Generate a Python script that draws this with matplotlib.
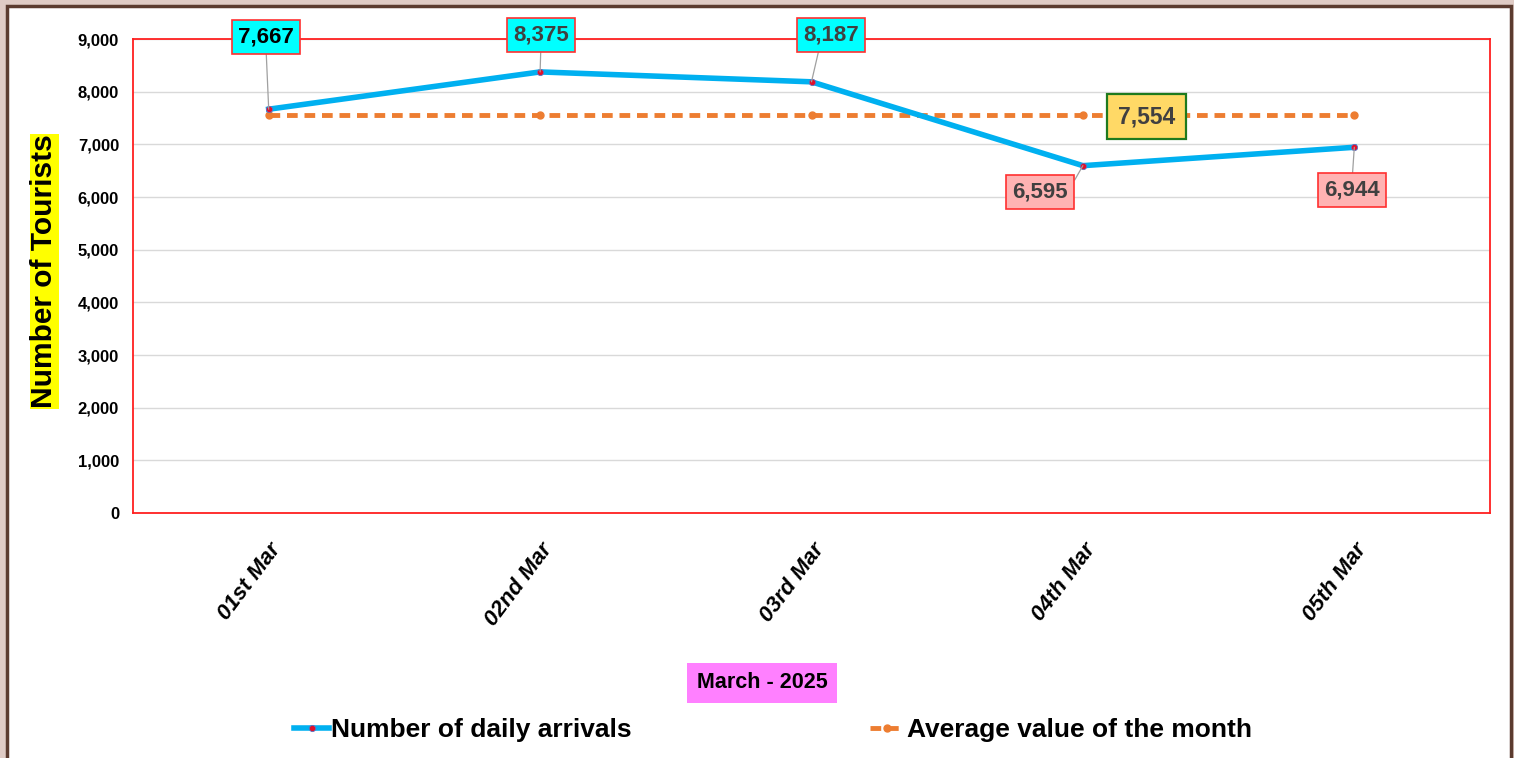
import matplotlib
matplotlib.use("Agg")
import matplotlib.pyplot as plt
from matplotlib.patches import Rectangle

days = ["01st Mar", "02nd Mar", "03rd Mar", "04th Mar", "05th Mar"]
arrivals = [7667, 8375, 8187, 6595, 6944]
month_avg = [7554, 7554, 7554, 7554, 7554]
y_ticks = [0, 1000, 2000, 3000, 4000, 5000, 6000, 7000, 8000, 9000]

FONT = ["Liberation Sans", "DejaVu Sans"]

W, H = 1514, 758
fig = plt.figure(figsize=(W / 100, H / 100), dpi=100)
fig.patch.set_facecolor("#dfcbc5")

# white card with brown frame
fig.patches.append(Rectangle((7 / W, -0.05), (1504 / W), 1 - 6 / H + 0.05,
                             transform=fig.transFigure, facecolor="white",
                             edgecolor="#5b3b2f", linewidth=2.5, zorder=-5))

ax = fig.add_axes([133 / W, 1 - 513 / H, 1357 / W, 474 / H])
ax.set_facecolor("white")
x = list(range(len(days)))

ax.plot(x, arrivals, color="#00b0f0", lw=4, marker="o", ms=4.5,
        mfc="#e0102a", mec="#6070c0", mew=0.6, zorder=4,
        label="Number of daily arrivals")
ax.plot(x, month_avg, color="#ed7d31", lw=3.5, ls=(0, (2.2, 1.4)), marker="o",
        ms=5, mfc="#ed7d31", mec="#ed7d31", zorder=3,
        label="Average value of the month")

ax.set_xlim(-0.5, 4.5)
ax.set_ylim(0, 9000)
ax.set_yticks(y_ticks)
ax.set_yticklabels([f"{v:,}" for v in y_ticks], family=FONT,
                   fontweight="bold", fontsize=12)
ax.set_xticks(x)
ax.set_xticklabels(days, rotation=53, ha="right", rotation_mode="anchor",
                   family=FONT, fontweight="bold", fontstyle="italic", fontsize=16)
ax.tick_params(axis="y", length=0, pad=10)
ax.tick_params(axis="x", length=0, pad=19)
ax.grid(axis="y", color="#d9d9d9", lw=1)
ax.set_axisbelow(True)
for s in ax.spines.values():
    s.set_color("#ff2020")
    s.set_linewidth(1.3)

ax.set_ylabel("Number of Tourists", family=FONT, fontweight="bold", fontsize=21.5,
              bbox=dict(facecolor="#ffff00", edgecolor="none", pad=0.5))
ax.yaxis.set_label_coords(-0.055, 0.51)

# data labels
label_pos = [(-0.01, 9038), (1.003, 9076), (2.072, 9076), (2.842, 6095), (3.992, 6133)]
label_rel = [(0.5, 0), (0.5, 0), (0.3, 0), (1, 0.5), (0.5, 1)]
label_face = ["#00ffff", "#00ffff", "#00ffff", "#ffb3b3", "#ffb3b3"]
label_txt = ["black", "#404040", "#404040", "#404040", "#404040"]
for i, v in enumerate(arrivals):
    ax.annotate(f"{v:,}", xy=(x[i], v), xytext=label_pos[i], ha="center", va="center",
                family=FONT, fontweight="bold", fontsize=16, color=label_txt[i],
                annotation_clip=False, zorder=6,
                bbox=dict(boxstyle="square,pad=0.28", facecolor=label_face[i],
                          edgecolor="#ff3030", lw=1.2),
                arrowprops=dict(arrowstyle="-", color="#a0a0a0", lw=0.9,
                                shrinkA=0, shrinkB=0, relpos=label_rel[i]))

ax.annotate(f"{month_avg[3]:,}", xy=(3.233, 7519), ha="center", va="center",
            family=FONT, fontweight="bold", fontsize=16.5, color="#404040", zorder=6,
            bbox=dict(boxstyle="square,pad=0.48", facecolor="#ffd966",
                      edgecolor="#1e7a1e", lw=1.6))

fig.text(762 / W, 1 - 683 / H, "March - 2025", ha="center", va="center",
         family=FONT, fontweight="bold", fontsize=15.5,
         bbox=dict(facecolor="#ff80ff", edgecolor="none", pad=7))

fig.legend(loc="center", bbox_to_anchor=(773 / W, 1 - 730 / H), ncol=2,
           frameon=False, columnspacing=9, handlelength=1.3, handletextpad=0.1,
           prop=dict(family=FONT, weight="bold", size=19))

fig.savefig("out.png", dpi=100, facecolor=fig.get_facecolor())
